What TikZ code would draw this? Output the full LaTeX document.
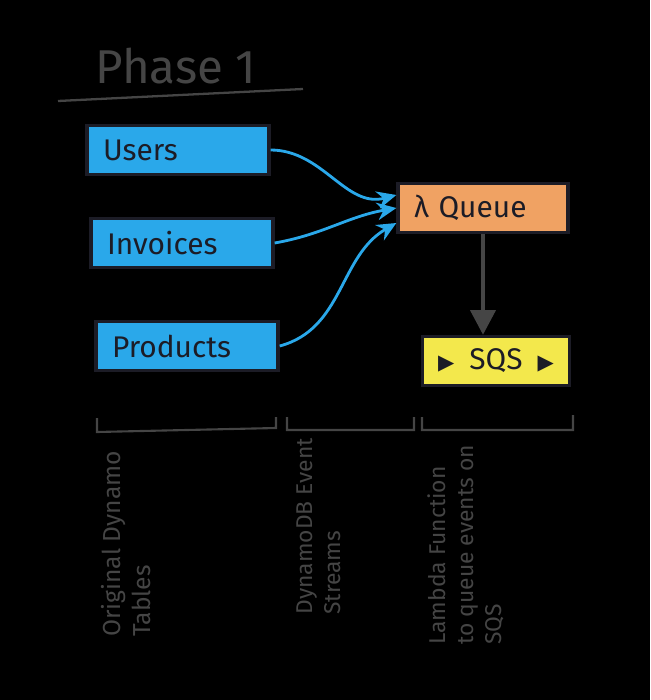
\documentclass[tikz,border=0pt]{standalone}
\usepackage{fontspec}
\setmainfont{Fira Sans}
\newfontfamily\symfont{DejaVu Sans}
\usepackage{xcolor}
\usetikzlibrary{arrows.meta}
\definecolor{tblblue}{HTML}{2AA8EA}
\definecolor{qorange}{HTML}{F0A263}
\definecolor{sqsyellow}{HTML}{F3E84C}
\definecolor{ink}{HTML}{1C1C26}
\definecolor{pencil}{HTML}{454545}

\begin{document}
\begin{tikzpicture}[x=0.02cm,y=-0.02cm,
  box/.style={draw=ink,line width=1.9pt,minimum height=0.98cm,inner xsep=0.32cm,
    align=left,font=\fontsize{17}{20}\selectfont,text=ink},
  tbl/.style={box,fill=tblblue,text width=3.0cm},
  flow/.style={draw=tblblue,line width=1.6pt,-{Stealth[length=11pt,width=10pt]}},
  note/.style={rotate=90,anchor=north west,inner sep=0pt,align=left,text=pencil,
    font=\fontsize{13}{16}\selectfont}]
\fill[black] (0,0) rectangle (650,700);
\useasboundingbox (0,0) rectangle (650,700);
% title
\node[text=pencil,font=\fontsize{27}{30}\selectfont] (title) at (176,66) {Phase 1};
\draw[pencil,line width=1.3pt] (58,101) -- (303,89);
% tables
\node[tbl] (users) at (178,150) {Users};
\node[tbl] (invoices) at (182,243) {Invoices};
\node[tbl] (products) at (187,346) {Products};
\node[box,fill=qorange,text width=2.76cm] (queue) at (483,208) {λ Queue};
\node[box,fill=sqsyellow,minimum width=2.86cm,align=center] (sqs) at (496,361)
  {{\symfont\large ▶}\hspace{0.3cm}SQS\hspace{0.3cm}{\symfont\large ▶}};
% streams
\path[flow] (users.east) to[out=0,in=195] ([yshift=0.26cm]queue.west);
\path[flow] (invoices.east) to[out=10,in=190] (queue.west);
\path[flow] (products.east) to[out=15,in=210] ([yshift=-0.3cm]queue.west);
\path[draw=pencil,line width=2.6pt,-{Triangle[length=14pt,width=14pt]}]
  (queue.south) -- (queue.south |- sqs.north);
% braces
\draw[pencil,line width=1.2pt] (97,418) -- (97,432) -- (276,428) -- (276,417)
  (287,417) -- (287,430) -- (414,430) -- (414,417)
  (422,417) -- (422,430) -- (573,430) -- (573,415);
\node[note,font=\fontsize{14}{17}\selectfont] (origlbl) at (101,637) {Original Dynamo\\Tables};
\node[note] (streamlbl) at (296,615) {DynamoDB Event\\Streams};
\node[note] (lambdalbl) at (427,645) {Lambda Function\\to queue events on\\SQS};
\end{tikzpicture}
\end{document}
